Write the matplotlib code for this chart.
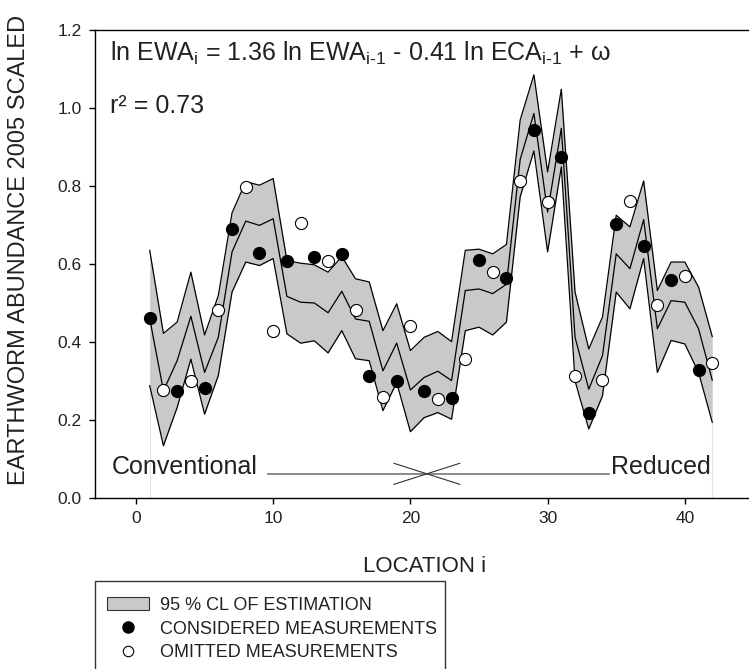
import matplotlib
matplotlib.use("Agg")
import matplotlib.pyplot as plt
from matplotlib.lines import Line2D
from matplotlib.patches import Patch, Rectangle

plt.rcParams['font.family'] = ['Liberation Sans', 'DejaVu Sans']
plt.rcParams['mathtext.fontset'] = 'custom'
plt.rcParams['mathtext.rm'] = 'Liberation Sans'

# location index along the transect
location = list(range(1, 43))

# estimated value and 95 % confidence limits
estimate = [0.460, 0.275, 0.352, 0.466, 0.322, 0.412, 0.631, 0.710, 0.699, 0.716,
            0.517, 0.502, 0.500, 0.475, 0.530, 0.459, 0.453, 0.326, 0.397, 0.277,
            0.309, 0.325, 0.301, 0.532, 0.536, 0.524, 0.548, 0.868, 0.986, 0.733,
            0.948, 0.412, 0.279, 0.365, 0.626, 0.588, 0.714, 0.434, 0.506, 0.502,
            0.434, 0.302]
upper_cl = [0.635, 0.422, 0.451, 0.579, 0.418, 0.519, 0.731, 0.811, 0.802, 0.819,
            0.609, 0.602, 0.598, 0.579, 0.619, 0.562, 0.554, 0.429, 0.498, 0.378,
            0.412, 0.427, 0.401, 0.635, 0.638, 0.626, 0.650, 0.969, 1.085, 0.836,
            1.048, 0.528, 0.382, 0.464, 0.725, 0.695, 0.813, 0.532, 0.605, 0.605,
            0.541, 0.414]
lower_cl = [0.288, 0.134, 0.232, 0.356, 0.215, 0.314, 0.528, 0.605, 0.596, 0.614,
            0.421, 0.397, 0.403, 0.372, 0.429, 0.357, 0.352, 0.224, 0.296, 0.170,
            0.206, 0.219, 0.202, 0.429, 0.438, 0.418, 0.451, 0.772, 0.890, 0.631,
            0.849, 0.300, 0.177, 0.262, 0.528, 0.485, 0.614, 0.322, 0.404, 0.395,
            0.322, 0.194]

# measurements
considered_x = [1, 3, 5, 7, 9, 11, 13, 15, 17, 19, 21, 23, 25, 27, 29, 31, 33, 35, 37, 39, 41]
considered_y = [0.462, 0.275, 0.282, 0.689, 0.629, 0.607, 0.618, 0.626, 0.314, 0.301,
                0.275, 0.256, 0.609, 0.565, 0.943, 0.875, 0.219, 0.702, 0.645, 0.558, 0.328]
omitted_x = [2, 4, 6, 8, 10, 12, 14, 16, 18, 20, 22, 24, 26, 28, 30, 32, 34, 36, 38, 40, 42]
omitted_y = [0.277, 0.301, 0.482, 0.798, 0.429, 0.705, 0.607, 0.481, 0.258, 0.440,
             0.254, 0.356, 0.580, 0.813, 0.759, 0.314, 0.302, 0.761, 0.495, 0.568, 0.345]

band_color = '#c8c9cb'
text_color = '#222222'

fig = plt.figure(figsize=(7.49, 6.69), dpi=100)
ax = fig.add_axes([0.1266, 0.2556, 0.8793, 0.6996])

ax.fill_between(location, lower_cl, upper_cl, color=band_color, lw=0, zorder=1)
ax.plot(location, upper_cl, color='black', lw=0.9, zorder=2)
ax.plot(location, estimate, color='black', lw=0.9, zorder=2)
ax.plot(location, lower_cl, color='black', lw=0.9, zorder=2)
ax.vlines([location[0], location[-1]], 0, [lower_cl[0], lower_cl[-1]],
          color='#e4e4e4', lw=0.8, zorder=0)

ax.plot(considered_x, considered_y, 'o', ms=8.7, mfc='black', mec='black', mew=0.8, zorder=3)
ax.plot(omitted_x, omitted_y, 'o', ms=8.7, mfc='white', mec='black', mew=0.8, zorder=3)

# tillage labels
ax.text(-1.75, 0.062, 'Conventional', fontsize=18, color=text_color, va='baseline')
ax.text(34.6, 0.062, 'Reduced', fontsize=18, color=text_color, va='baseline')
ax.plot([9.6, 34.5], [0.062, 0.062], color='#777777', lw=1.2)
ax.plot([18.8, 23.6], [0.089, 0.035], color='#333333', lw=0.8)
ax.plot([18.8, 23.6], [0.035, 0.089], color='#333333', lw=0.8)

ax.text(-1.92, 1.12,
        r'ln EWA$_\mathregular{i}$ = 1.36 ln EWA$_\mathregular{i\text{-}1}$'
        r' - 0.41 ln ECA$_\mathregular{i\text{-}1}$ + ω',
        fontsize=18, color=text_color, va='baseline')
ax.text(-1.92, 0.987, 'r² = 0.73', fontsize=18, color=text_color, va='baseline')

ax.set_xlim(-3, 45)
ax.set_ylim(0, 1.2)
ax.set_xticks([0, 10, 20, 30, 40])
ax.set_yticks([0.0, 0.2, 0.4, 0.6, 0.8, 1.0, 1.2])
ax.set_yticklabels(['0.0', '0.2', '0.4', '0.6', '0.8', '1.0', '1.2'])
ax.tick_params(direction='out', length=4.5, width=1, labelsize=12.5, labelcolor=text_color, pad=5)
for s in ax.spines.values():
    s.set_linewidth(1)

ax.set_xlabel('LOCATION i', fontsize=16, color=text_color)
ax.set_ylabel('EARTHWORM ABUNDANCE 2005 SCALED', fontsize=17, color=text_color)
ax.xaxis.set_label_coords(0.5, -0.124)
ax.yaxis.set_label_coords(-0.098, 0.53)

# legend
fig.patches.append(Rectangle((95 / 749, -0.05), (445 - 95) / 749, 0.05 + 1 - 581 / 669,
                             transform=fig.transFigure, fill=False, ec='#333333', lw=1))
handles = [Patch(facecolor=band_color, edgecolor='#333333', lw=0.8),
           Line2D([], [], ls='none', marker='o', ms=8, mfc='black', mec='black'),
           Line2D([], [], ls='none', marker='o', ms=7.5, mfc='white', mec='black', mew=0.8)]
labels = ['95 % CL OF ESTIMATION', 'CONSIDERED MEASUREMENTS', 'OMITTED MEASUREMENTS']
leg = fig.legend(handles, labels, loc='upper left', bbox_to_anchor=(107 / 749, 1 - 597 / 669),
                 frameon=False, fontsize=13, handlelength=2.33, handleheight=0.75,
                 handletextpad=0.6, labelspacing=0.36, borderpad=0, borderaxespad=0)
for t in leg.get_texts():
    t.set_color(text_color)

fig.savefig('out.png', dpi=100)
